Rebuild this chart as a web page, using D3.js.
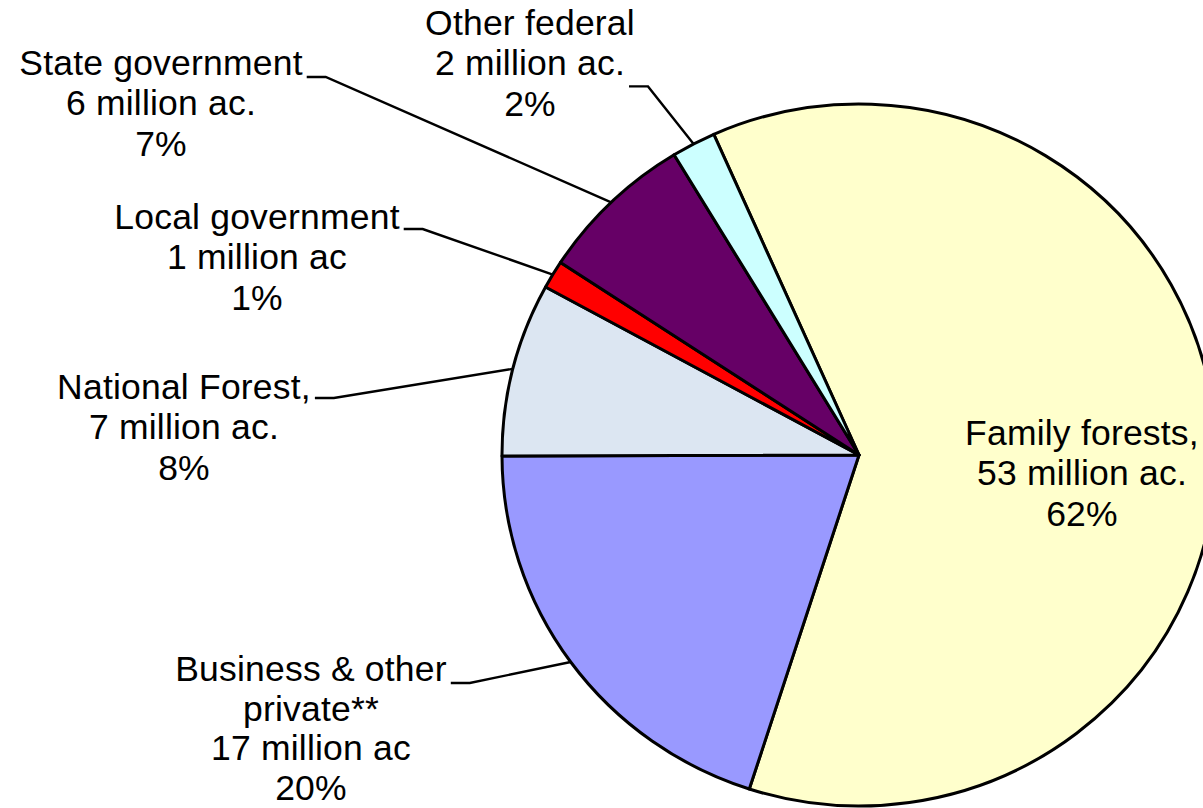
<!DOCTYPE html>
<html>
<head>
<meta charset="utf-8">
<script src="https://cdn.jsdelivr.net/npm/d3@7"></script>
<style>
  html, body { margin: 0; padding: 0; background: #ffffff; }
  svg { display: block; }
  text { font-family: "Liberation Sans", Arial, sans-serif; fill: #000; }
</style>
</head>
<body>
<svg id="chart" width="1203" height="808"></svg>
<script>
// ---- data ----
const categories = ["Family forests", "Business & other private", "National Forest", "Local government", "State government", "Other federal"];
const shares = [61.7, 20.0, 8.0, 1.3, 7.1, 2.0];           // percent of area (slice size)
const acres = ["53 million ac.", "17 million ac", "7 million ac.", "1 million ac", "6 million ac.", "2 million ac."];
const pctLabels = ["62%", "20%", "8%", "1%", "7%", "2%"];
const nameLines = [["Family forests,"], ["Business & other", "private**"], ["National Forest,"], ["Local government"], ["State government"], ["Other federal"]];
const colors = ["#FFFFCC", "#9999FF", "#DCE6F2", "#FF0000", "#660066", "#CCFFFF"];

// ---- layout (label anchor positions: centre x, first baseline y, line height) ----
const labelPos = [[1082, 445, 40.4], [311, 681, 39.6], [184, 399, 40.4], [257, 229, 40.4], [161, 75, 40.4], [530, 35, 40.4]];
const leaderAttach = [null, {line: 0, dy: 2}, {line: 0, dy: -1}, {line: 0, dy: 0}, {line: 0, dy: 2}, {line: 1, dy: 11}];

const W = 1203, H = 808;
const cx = 859, cy = 455, R = 357, yScale = 351 / 357;
const startDeg = -24.0;
const fontSize = 35.5;

const svg = d3.select("#chart");

const pie = d3.pie().sort(null).value(d => d)
  .startAngle(startDeg * Math.PI / 180)
  .endAngle(startDeg * Math.PI / 180 + 2 * Math.PI);
const arcs = pie(shares);
const arc = d3.arc().innerRadius(0).outerRadius(R);
const edgeArc = d3.arc().innerRadius(R).outerRadius(R);

const g = svg.append("g").attr("transform", `translate(${cx},${cy}) scale(1,${yScale})`);
g.selectAll("path.slice").data(arcs).join("path")
  .attr("class", "slice")
  .attr("d", arc)
  .attr("fill", (d, i) => colors[i])
  .attr("stroke", "#000")
  .attr("stroke-width", 3)
  .attr("stroke-linejoin", "round")
  .attr("vector-effect", "non-scaling-stroke");

// labels
const labels = svg.append("g");
arcs.forEach((a, i) => {
  const lines = nameLines[i].concat([acres[i], pctLabels[i]]);
  const [lx, ly, lh] = labelPos[i];
  const t = labels.append("text")
    .attr("text-anchor", "middle")
    .attr("font-size", fontSize)
    .attr("letter-spacing", "0.2px");
  const spans = lines.map((s, k) => t.append("tspan")
    .attr("x", lx).attr("y", ly + k * lh).text(s));
  const at = leaderAttach[i];
  if (at) {
    const node = spans[at.line].node();
    const w = node.getComputedTextLength();
    const x0 = lx + w / 2 + 4;
    const y0 = ly + at.line * lh + at.dy;
    const c = edgeArc.centroid(a);
    const ex = cx + c[0], ey = cy + c[1] * yScale;
    svg.append("polyline")
      .attr("points", [[x0, y0], [x0 + 19, y0], [ex, ey]].map(p => p.join(",")).join(" "))
      .attr("fill", "none")
      .attr("stroke", "#000")
      .attr("stroke-width", 2.4);
  }
});
</script>
</body>
</html>
